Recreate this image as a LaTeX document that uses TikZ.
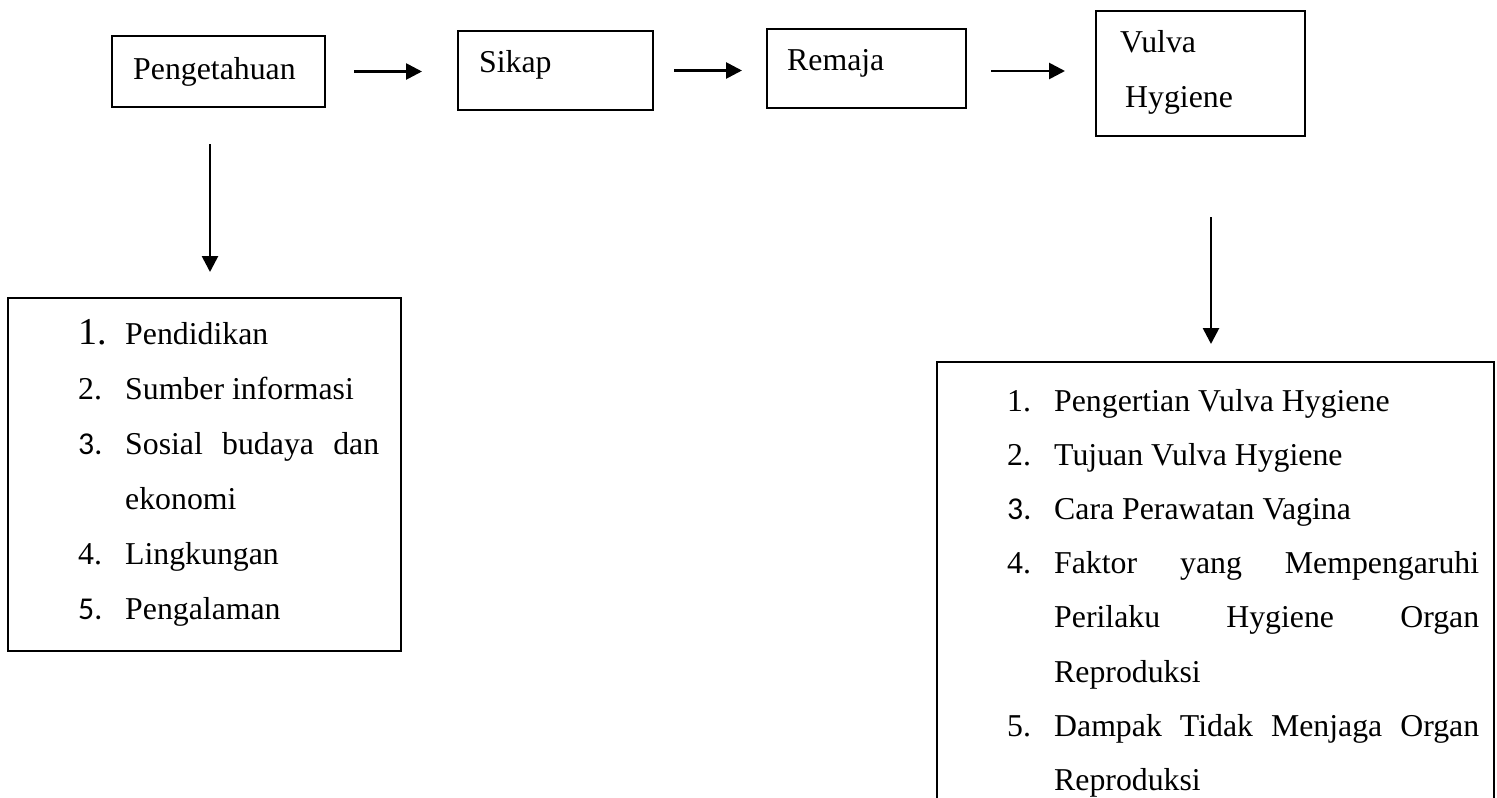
\documentclass[tikz,border=0pt]{standalone}
\usepackage{fontspec}
\setmainfont{Liberation Serif}
\newfontfamily\calibfont{Carlito}
\usetikzlibrary{arrows.meta}
\newcommand\numcol[1]{\makebox[47pt][l]{#1}}
\begin{document}
\begin{tikzpicture}[x=1pt,y=-1pt,
  box/.style={draw,line width=2pt,inner sep=0pt},
  lbl/.style={anchor=base west,inner sep=0pt,font=\fontsize{31.8}{38}\selectfont},
  arr/.style={line width=2.7pt,-{Triangle[length=16pt,width=16pt]}}]
\useasboundingbox (0,0) rectangle (1497,798);
\clip (0,0) rectangle (1497,798);
% top row boxes
\node[box,minimum width=213pt,minimum height=71pt] (peng) at (218.5,71.5) {};
\node[box,minimum width=195pt,minimum height=79pt] (sikap) at (555.5,70.5) {};
\node[box,minimum width=199pt,minimum height=79pt] (remaja) at (866.5,68.5) {};
\node[box,minimum width=209pt,minimum height=125pt] (vulva) at (1200.5,73.5) {};
% list boxes
\node[box,minimum width=393pt,minimum height=353pt] (lbox) at (204.5,474.5) {};
\node[box,minimum width=557pt,minimum height=460pt] (rbox) at (1215.5,592) {};
% labels
\node[lbl] (tpeng) at (133,79) {Pengetahuan};
\node[lbl] (tsikap) at (479,72.5) {Sikap};
\node[lbl] (tremaja) at (787,70.5) {Remaja};
\node[lbl] (tvulva) at (1120,52) {Vulva};
\node[lbl] (thyg) at (1125,107) {Hygiene};
% left list
\node[lbl,font=\fontsize{31.8}{55}\selectfont] (llist) at (78,344) {\vtop{%
  \hbox to 301pt{\numcol{\fontsize{38}{38}\selectfont 1.}Pendidikan\hfill}
  \hbox to 301pt{\numcol{2.}Sumber informasi\hfill}
  \hbox to 301pt{\numcol{\calibfont 3.}Sosial\hfill budaya\hfill dan}
  \hbox to 301pt{\numcol{}ekonomi\hfill}
  \hbox to 301pt{\numcol{4.}Lingkungan\hfill}
  \hbox to 301pt{\numcol{\calibfont 5.}Pengalaman\hfill}}};
% right list
\node[lbl,font=\fontsize{31.8}{54.2}\selectfont] (rlist) at (1007,411) {\vtop{%
  \hbox to 472pt{\numcol{1.}Pengertian Vulva Hygiene\hfill}
  \hbox to 472pt{\numcol{2.}Tujuan Vulva Hygiene\hfill}
  \hbox to 472pt{\numcol{\calibfont 3.}Cara Perawatan Vagina\hfill}
  \hbox to 472pt{\numcol{4.}Faktor\hfill yang\hfill Mempengaruhi}
  \hbox to 472pt{\numcol{}Perilaku\hfill Hygiene\hfill Organ}
  \hbox to 472pt{\numcol{}Reproduksi\hfill}
  \hbox to 472pt{\numcol{5.}Dampak\hfill Tidak\hfill Menjaga\hfill Organ}
  \hbox to 472pt{\numcol{}Reproduksi\hfill}}};
% connectors
\draw[arr,shorten <=28pt,shorten >=35pt] (peng.east) -- (peng.east -| sikap.west);
\draw[arr,shorten <=20pt,shorten >=24pt] (sikap.east) -- (sikap.east -| remaja.west);
\draw[arr,shorten <=24pt,shorten >=30pt] ([yshift=-2.5pt]remaja.east) -- ([yshift=-2.5pt]remaja.east -| vulva.west);
\draw[arr,shorten <=36pt,shorten >=25pt] ([xshift=-8.5pt]peng.south) -- ([xshift=-8.5pt]peng.south |- lbox.north);
\draw[arr,shorten <=80pt,shorten >=17pt] ([xshift=10.5pt]vulva.south) -- ([xshift=10.5pt]vulva.south |- rbox.north);
\end{tikzpicture}
\end{document}
